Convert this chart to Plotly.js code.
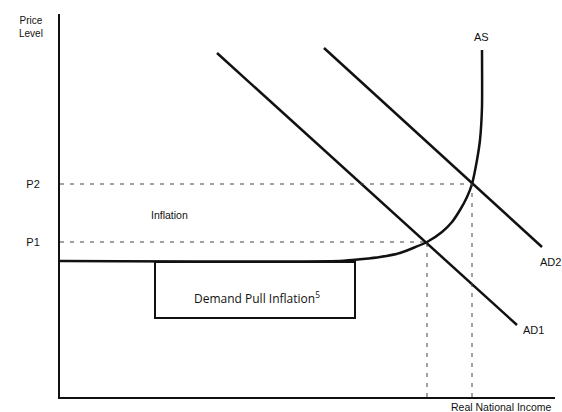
<!DOCTYPE html>
<html>
<head>
<meta charset="utf-8">
<script src="https://cdn.plot.ly/plotly-3.0.1.min.js"></script>
<style>html,body{margin:0;padding:0;background:#fff;}#chart{width:562px;height:412px;}</style>
</head>
<body>
<div id="chart"></div>
<script>
// Conceptual diagram values (abstract units)
const P1 = 155, P2 = 213;          // price levels
const Q1 = 367, Q2 = 412;          // real national income at equilibria
const asX = [0, 280, 303, 320, 340, 367, 382, 392, 400, 407, 412, 417, 420, 422, 422];
const asY = [136, 136, 138, 140, 144, 155, 165, 175, 187, 200, 213, 237, 257, 290, 347];
const ad1X = [157, 457], ad1Y = [344, 72];
const ad2X = [264, 482], ad2Y = [349, 150];
const boxX = [95, 295, 295, 95, 95], boxY = [135, 135, 79, 79, 135];
const tickVals = [P1, P2], tickText = ['P1', 'P2'];

const solid = {color: '#111', width: 2.5};
const dash = {color: '#444', width: 1, dash: '4px,6px'};

const traces = [
  {x: asX, y: asY, mode: 'lines', line: Object.assign({shape: 'spline', smoothing: 0.5}, solid)},
  {x: ad1X, y: ad1Y, mode: 'lines', line: solid},
  {x: ad2X, y: ad2Y, mode: 'lines', line: solid},
  {x: [0, Q2], y: [P2, P2], mode: 'lines', line: dash},
  {x: [0, Q1], y: [P1, P1], mode: 'lines', line: dash},
  {x: [Q1, Q1], y: [0, P1], mode: 'lines', line: dash},
  {x: [Q2, Q2], y: [0, P2], mode: 'lines', line: dash},
  {x: boxX, y: boxY, mode: 'lines', line: {color: '#111', width: 2}}
];

const FAM = 'Liberation Sans, Arial, sans-serif';
const lbl = (t, x, y, size, fam, xref, yref) => ({text: t, x: x, y: y, xref: xref || 'x', yref: yref || 'y',
  xanchor: 'center', yanchor: 'middle', align: 'center',
  showarrow: false, font: {size: size, color: '#111', family: fam || FAM}});

const layout = {
  width: 562, height: 412,
  margin: {l: 60, r: 7, t: 14, b: 15},
  paper_bgcolor: '#fff', plot_bgcolor: '#fff',
  showlegend: false,
  xaxis: {range: [0, 495], showgrid: false, zeroline: false, showline: true, linecolor: '#111', linewidth: 2,
          showticklabels: false, ticks: ''},
  yaxis: {range: [0, 383], showgrid: false, zeroline: false, showline: true, linecolor: '#111', linewidth: 2,
          tickvals: tickVals, ticktext: tickText, ticks: '', ticklabelstandoff: 16,
          tickfont: {size: 11, color: '#111', family: FAM}},
  annotations: [
    lbl('Price<br>Level', -0.0586, 0.966, 10, null, 'paper', 'paper'),
    lbl('Real National Income', 0.891, -0.026, 10.5, null, 'paper', 'paper'),
    lbl('AS', 421, 360, 11),
    lbl('AD2', 490, 135, 11),
    lbl('AD1', 473, 67, 11),
    lbl('Inflation', 109, 182, 10.5),
    lbl('Demand Pull Inflation<sup>5</sup>', 197, 99, 12, 'Open Sans, sans-serif')
  ]
};

Plotly.newPlot('chart', traces, layout, {displayModeBar: false, staticPlot: true});
</script>
</body>
</html>
